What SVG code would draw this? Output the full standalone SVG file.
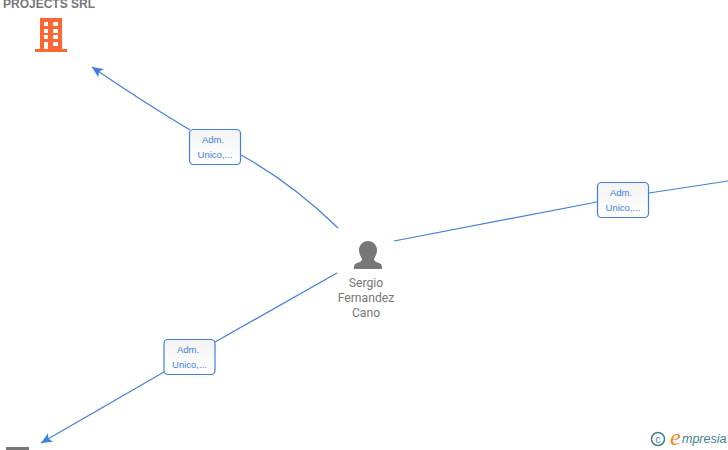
<svg xmlns="http://www.w3.org/2000/svg" width="728" height="450" viewBox="0 0 728 450">
<defs>
<marker id="arrow" markerUnits="userSpaceOnUse" markerWidth="12" markerHeight="10" refX="11" refY="5" orient="auto"><path d="M11 5L0 0L2.500 5L0 10Z" fill="#3f7fe0"/></marker>
<linearGradient id="lb" x1="0" y1="0" x2="0" y2="1"><stop offset="0" stop-color="#f4f4f4"/><stop offset="1" stop-color="#ffffff"/></linearGradient>
</defs>
<style>
.edge{fill:none;stroke:#3f7fe0;stroke-width:1.2}
.box{fill:url(#lb);stroke:#3f7fe0;stroke-width:1.2}
.lbl{font:9.500px "Liberation Sans",Arial,sans-serif;fill:#3f7fe0;text-anchor:middle}
.name{font:12.200px Roboto,"Liberation Sans",sans-serif;fill:#777;text-anchor:middle}
</style>
<rect width="728" height="450" fill="#fff"/>
<g id="connectors">
<path class="edge" d="M338 228Q292 183 241 155"/>
<path class="edge" d="M190 130Q140 100 92 67" marker-end="url(#arrow)"/>
<path class="edge" d="M394 241L597 202"/>
<path class="edge" d="M649 193L728 181"/>
<path class="edge" d="M337 273L215 342"/>
<path class="edge" d="M164 372L41 443" marker-end="url(#arrow)"/>
</g>
<g id="node-projects">
<text x="49" y="7.500" font-family="'Liberation Sans',Arial,sans-serif" font-size="12" font-weight="bold" fill="#777" text-anchor="middle">PROJECTS SRL</text>
<path fill="#ff6633" fill-rule="evenodd" d="M40 18H62V49H67V52H35V49H40ZM44 22V26H48V22ZM53 22V26H58V22ZM44 29V33H48V29ZM53 29V33H58V29ZM44 35V39H48V35ZM53 35V39H58V35ZM44 42V49H48V42ZM53 42V46H58V42Z"/>
</g>
<g id="node-sergio">
<path fill="#777" d="M368 241C373 241 377 245 377 250C377 254 375 257 374 259C374 261 376 262 379 263C382 264 382 266 382 269H354C354 266 354 264 357 263C360 262 362 261 362 259C361 257 359 254 359 250C359 245 363 241 368 241Z"/>
<text class="name" x="366" y="287">Sergio</text>
<text class="name" x="366" y="302">Fernandez</text>
<text class="name" x="366" y="317">Cano</text>
</g>
<g id="label-top">
<rect class="box" x="189.500" y="129.500" width="51" height="35" rx="4"/>
<text class="lbl" x="213" y="143">Adm.</text>
<text class="lbl" x="215" y="158">Unico,...</text>
</g>
<g id="label-right">
<rect class="box" x="597.500" y="182.500" width="51" height="35" rx="4"/>
<text class="lbl" x="621" y="196">Adm.</text>
<text class="lbl" x="623" y="211">Unico,...</text>
</g>
<g id="label-bottom">
<rect class="box" x="164" y="339.500" width="51" height="35" rx="4"/>
<text class="lbl" x="188" y="353">Adm.</text>
<text class="lbl" x="189.500" y="368">Unico,...</text>
</g>
<g id="node-bottom">
<rect x="6" y="447" width="23" height="3" fill="#777"/>
</g>
<g id="logo">
<circle cx="658" cy="439" r="6.500" fill="none" stroke="#3d7f92" stroke-width="1.500"/>
<text x="658" y="442.500" font-family="'Liberation Sans',sans-serif" font-size="10" fill="#3d7f92" text-anchor="middle">c</text>
<text x="670" y="445" font-family="'Liberation Serif',serif" font-style="italic" font-size="24" fill="#f58220">e</text>
<text x="682" y="443" font-family="'Liberation Sans',sans-serif" font-style="italic" font-size="12.500" fill="#3d7f92">mpresia</text>
</g>
</svg>
